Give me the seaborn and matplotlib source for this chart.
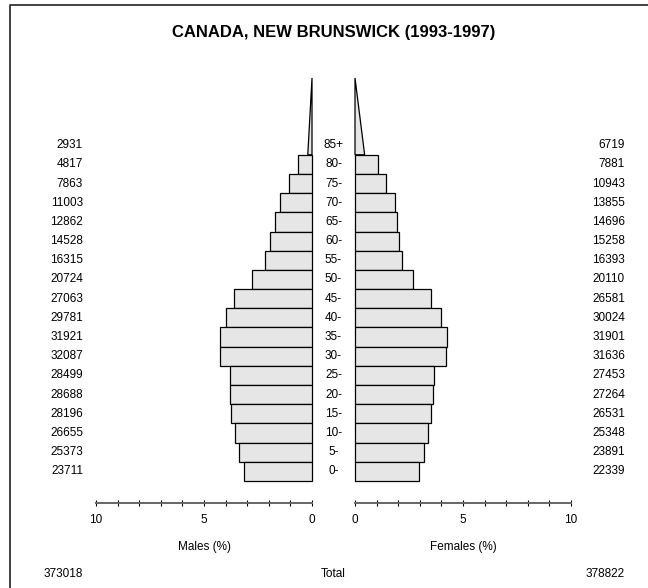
import matplotlib
matplotlib.use("Agg")
import matplotlib.pyplot as plt
import matplotlib.transforms as mtransforms
from matplotlib.lines import Line2D
import seaborn as sns
import pandas as pd

ages = ["85+", "80-", "75-", "70-", "65-", "60-", "55-", "50-", "45-",
        "40-", "35-", "30-", "25-", "20-", "15-", "10-", "5-", "0-"]
males = [2931, 4817, 7863, 11003, 12862, 14528, 16315, 20724, 27063,
         29781, 31921, 32087, 28499, 28688, 28196, 26655, 25373, 23711]
females = [6719, 7881, 10943, 13855, 14696, 15258, 16393, 20110, 26581,
           30024, 31901, 31636, 27453, 27264, 26531, 25348, 23891, 22339]
total_m = 373018
total_f = 378822
title = "CANADA, NEW BRUNSWICK (1993-1997)"

grand = total_m + total_f
df = pd.DataFrame({"age": ages, "m": males, "f": females})
df["m_pct"] = df["m"] / grand * 100
df["f_pct"] = df["f"] / grand * 100
bars = df[df["age"] != "85+"]
order = list(bars["age"])

sns.set_style("white")
plt.rcParams["font.family"] = ["Liberation Sans", "DejaVu Sans"]
plt.rcParams["text.color"] = "black"
plt.rcParams["xtick.color"] = "black"

W, H = 648, 588
fig = plt.figure(figsize=(W / 100, H / 100), dpi=100)


def fx(px):
    return px / W


def fy(py):
    return 1 - py / H


fs = 8.5
fill = "#e6e6e6"
y_top, y_bot = 78, 481
axes = {}
for key, x0, x1, xlab in [("m", 96, 312, "Males (%)"), ("f", 355, 571, "Females (%)")]:
    ax = fig.add_axes([fx(x0), fy(y_bot), (x1 - x0) / W, (y_bot - y_top) / H])
    sns.barplot(data=bars, x=key + "_pct", y="age", order=order, orient="h",
                width=1, color=fill, saturation=1, edgecolor="black",
                linewidth=0.9, ax=ax)
    for p in ax.patches:
        p.set_clip_on(False)
    # open-ended 85+ group drawn as a triangle over four rows
    top = df.loc[df["age"] == "85+", key + "_pct"].iloc[0]
    ax.fill([0, top / 2, 0], [-0.5, -0.5, -4.5], facecolor=fill,
            edgecolor="black", linewidth=0.9, clip_on=False)
    ax.set_ylim(16.5, -4.5)
    ax.set_xlim((10, 0) if key == "m" else (0, 10))
    ax.set_xticks([0, 5, 10])
    ax.set_xticks(range(11), minor=True)
    ax.set_yticks([])
    ax.set_ylabel("")
    ax.set_xlabel("")
    for s in ["left", "right", "top"]:
        ax.spines[s].set_visible(False)
    ax.spines["bottom"].set_position(("outward", 16))
    ax.spines["bottom"].set_color("#666666")
    ax.spines["bottom"].set_linewidth(1.4)
    ax.tick_params(axis="x", which="both", bottom=True, direction="inout",
                   length=5, width=0.8, color="black", pad=5, labelsize=fs,
                   labelcolor="black")
    ax.set_facecolor("none")
    fig.text(fx((x0 + x1) / 2), fy(547), xlab, ha="center", va="center", fontsize=fs)
    axes[key] = ax

tr = mtransforms.blended_transform_factory(fig.transFigure, axes["m"].transData)
for i, row in df.iterrows():
    yy = i - 1
    fig.text(fx(83), yy, f"{row['m']}", transform=tr, ha="right", va="center", fontsize=fs)
    fig.text(fx(333.5), yy, row["age"], transform=tr, ha="center", va="center", fontsize=fs)
    fig.text(fx(625), yy, f"{row['f']}", transform=tr, ha="right", va="center", fontsize=fs)

fig.text(fx(83), fy(574), str(total_m), ha="right", va="center", fontsize=fs)
fig.text(fx(333.5), fy(574), "Total", ha="center", va="center", fontsize=fs)
fig.text(fx(625), fy(574), str(total_f), ha="right", va="center", fontsize=fs)
fig.text(fx(333.5), fy(33), title, ha="center", va="center", fontsize=12,
         fontweight="bold")

# frame along the top and left edges
fig.add_artist(Line2D([fx(10), fx(10), 1], [0, fy(5), fy(5)], color="#333333",
                      linewidth=1.3, transform=fig.transFigure))

fig.savefig("out.png", dpi=100)
